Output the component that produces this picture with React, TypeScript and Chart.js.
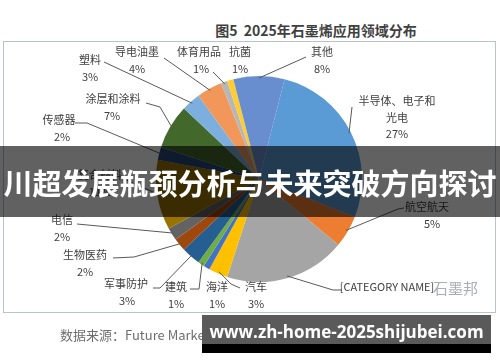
import React, { useEffect, useRef } from "react";
import { Chart, registerables } from "chart.js";

Chart.register(...registerables);

const categories = [
  "半导体、电子和光电",
  "航空航天",
  "[CATEGORY NAME]",
  "汽车",
  "海洋",
  "建筑",
  "军事防护",
  "生物医药",
  "电信",
  "复合材料",
  "传感器",
  "涂层和涂料",
  "塑料",
  "导电油墨",
  "体育用品",
  "抗菌",
  "其他",
];

const values = [27, 5, 19, 3, 1, 1, 3, 2, 2, 11, 2, 7, 3, 4, 1, 1, 8];

const sliceColors = [
  "#5B9BD5",
  "#ED7D31",
  "#A5A5A5",
  "#FFC000",
  "#4472C4",
  "#70AD47",
  "#255E91",
  "#9E480E",
  "#636363",
  "#997300",
  "#264478",
  "#43682B",
  "#7CAFDD",
  "#F1975A",
  "#B7B7B7",
  "#FFCD33",
  "#698ED0",
];

// label text lines (name part) per slice
const labelNameLines: string[][] = [
  ["半导体、电子和", "光电"],
  ["航空航天"],
  ["[CATEGORY NAME]"],
  ["汽车"],
  ["海洋"],
  ["建筑"],
  ["军事防护"],
  ["生物医药"],
  ["电信"],
  ["复合材料"],
  ["传感器"],
  ["涂层和涂料"],
  ["塑料"],
  ["导电油墨"],
  ["体育用品"],
  ["抗菌"],
  ["其他"],
];

const showPercent = [true, true, false, true, true, true, true, true, true, true, true, true, true, true, true, true, true];

// layout (positions) for labels: center x of text, y of first line center, percent x offset,
// and the label-side points of the leader line (null = no leader)
type Lay = { x: number; y: number; px?: number; leader: number[][] | null };
const labelLayout: Lay[] = [
  { x: 397, y: 101, leader: [[352, 107]] },
  { x: 427, y: 207, px: 432, leader: [[404, 208], [398, 209]] },
  { x: 387, y: 287, leader: [[342, 290], [333, 290]] },
  { x: 256, y: 287, leader: [[240, 288], [231, 284]] },
  { x: 217, y: 287, leader: null },
  { x: 176, y: 287, leader: [[190, 289], [199, 289]] },
  { x: 126, y: 284, px: 127, leader: [[153, 288], [160, 288]] },
  { x: 85, y: 255, leader: [[113, 258], [134, 257]] },
  { x: 62, y: 220, leader: [[77, 224]] },
  { x: 100, y: 175, leader: [[122, 178]] },
  { x: 59, y: 120, px: 62, leader: [[75, 123], [87, 123]] },
  { x: 113, y: 99, px: 112, leader: [[146, 103], [160, 107]] },
  { x: 90, y: 60, leader: [[104, 62]] },
  { x: 137, y: 52, leader: [[164, 58]] },
  { x: 199, y: 52, px: 201, leader: [[213, 72]] },
  { x: 240, y: 52, leader: null },
  { x: 322, y: 52, leader: [[306, 57]] },
];

const FONT = '"Noto Sans CJK SC", "Noto Sans", sans-serif';

const labelPlugin = {
  id: "pieLabels",
  afterDatasetsDraw(chart: any) {
    const ctx: CanvasRenderingContext2D = chart.ctx;
    const meta = chart.getDatasetMeta(0);
    const total = values.reduce((a, b) => a + b, 0);
    ctx.save();
    meta.data.forEach((arc: any, i: number) => {
      const p = arc.getProps(["x", "y", "startAngle", "endAngle", "outerRadius"], true);
      const mid = (p.startAngle + p.endAngle) / 2;
      const ex = p.x + Math.cos(mid) * (p.outerRadius - 2);
      const ey = p.y + Math.sin(mid) * (p.outerRadius - 2);
      const lay = labelLayout[i];
      if (lay.leader) {
        ctx.beginPath();
        ctx.strokeStyle = "#595959";
        ctx.lineWidth = 1;
        ctx.moveTo(lay.leader[0][0], lay.leader[0][1]);
        for (let k = 1; k < lay.leader.length; k++) ctx.lineTo(lay.leader[k][0], lay.leader[k][1]);
        ctx.lineTo(ex, ey);
        ctx.stroke();
      }
      ctx.fillStyle = "#404040";
      ctx.textAlign = "center";
      ctx.textBaseline = "middle";
      const lines = labelNameLines[i];
      ctx.font = `11px ${FONT}`;
      lines.forEach((ln, k) => {
        ctx.fillText(ln, lay.x, lay.y + k * 16.5);
      });
      if (showPercent[i]) {
        const pct = Math.round((values[i] / total) * 100) + "%";
        ctx.font = `11px ${FONT}`;
        ctx.fillText(pct, lay.px ?? lay.x, lay.y + lines.length * 16.5);
      }
    });
    ctx.restore();
  },
};

export default function App() {
  const ref = useRef<HTMLCanvasElement>(null);
  useEffect(() => {
    if (!ref.current) return;
    const chart = new Chart(ref.current, {
      type: "pie",
      data: {
        labels: categories,
        datasets: [
          {
            data: values,
            backgroundColor: sliceColors,
            borderWidth: 0,
          },
        ],
      },
      options: {
        responsive: false,
        animation: false,
        rotation: 14.4,
        layout: { padding: { left: 156, right: 138, top: 76, bottom: 80 } },
        plugins: {
          legend: { display: false },
          tooltip: { enabled: false },
          title: { display: false },
        },
      },
      plugins: [labelPlugin],
    });
    return () => chart.destroy();
  }, []);

  return (
    <div
      style={{
        position: "fixed",
        left: 0,
        top: 0,
        width: 500,
        height: 362,
        background: "#ffffff",
        overflow: "hidden",
        fontFamily: FONT,
      }}
    >
      <div
        style={{
          position: "absolute",
          left: 3,
          top: 41,
          width: 493,
          height: 272,
          border: "1px solid #B7C2CC",
          boxSizing: "border-box",
        }}
      />
      <div
        style={{
          position: "absolute",
          left: 200,
          width: 232,
          top: 20,
          textAlign: "center",
          fontSize: 14,
          fontWeight: 700,
          color: "#404040",
          lineHeight: "20px",
          whiteSpace: "pre",
        }}
      >
        {"图5  2025年石墨烯应用领域分布"}
      </div>
      <canvas ref={ref} width={500} height={362} style={{ position: "absolute", left: 0, top: 0 }} />
      <div
        style={{
          position: "absolute",
          left: 433,
          top: 278,
          fontSize: 15,
          color: "#A9AEB3",
          lineHeight: "20px",
        }}
      >
        石墨邦
      </div>
      <div
        style={{
          position: "absolute",
          left: 60,
          top: 325,
          fontSize: 13,
          color: "#6E6E6E",
          lineHeight: "20px",
          whiteSpace: "nowrap",
        }}
      >
        数据来源：Future Market Insights，石墨烯产业研究院
      </div>
      <div
        style={{
          position: "absolute",
          left: 0,
          top: 146,
          width: 500,
          height: 71,
          background: "rgba(0,0,0,0.62)",
        }}
      />
      <div
        style={{
          position: "absolute",
          left: 0,
          top: 162,
          width: 500,
          textAlign: "center",
          fontSize: 29,
          fontWeight: 700,
          color: "#ffffff",
          lineHeight: "40px",
          whiteSpace: "nowrap",
        }}
      >
        川超发展瓶颈分析与未来突破方向探讨
      </div>
      <div
        style={{
          position: "absolute",
          left: 202,
          top: 315,
          width: 289,
          height: 29,
          background: "#5A5A5A",
        }}
      />
      <div
        style={{
          position: "absolute",
          left: 202,
          top: 344,
          width: 289,
          height: 9,
          background: "#000000",
        }}
      />
      <div
        style={{
          position: "absolute",
          left: 202,
          top: 320,
          width: 289,
          textAlign: "center",
          fontSize: 17,
          fontWeight: 700,
          color: "#ffffff",
          lineHeight: "24px",
          whiteSpace: "nowrap",
          fontFamily: '"Open Sans", "Noto Sans", sans-serif',
        }}
      >
        www.zh-home-2025shijubei.com
      </div>
    </div>
  );
}
